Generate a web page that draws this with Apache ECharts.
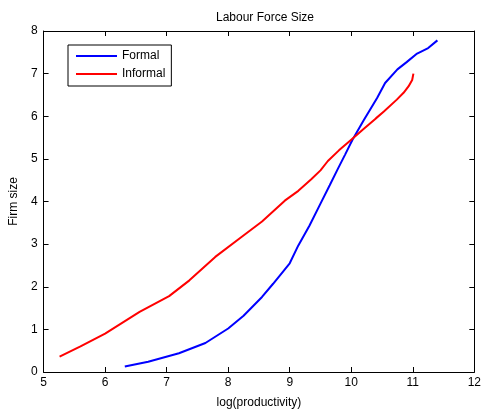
<!DOCTYPE html>
<html><head><meta charset="utf-8">
<script src="https://cdn.jsdelivr.net/npm/echarts@6/dist/echarts.min.js"></script>
<style>html,body{margin:0;padding:0;background:#fff}#c{width:484px;height:414px}</style>
</head><body><div id="c"></div>
<script>
var formalX = [6.32,6.7,7.2,7.63,8.0,8.25,8.55,8.73,9.0,9.14,9.32,9.5,9.65,9.78,9.9,10.02,10.2,10.42,10.55,10.75,10.9,11.07,11.25,11.4];
var formalY = [0.13,0.24,0.44,0.68,1.02,1.32,1.76,2.07,2.55,2.97,3.43,3.95,4.38,4.76,5.1,5.45,5.9,6.43,6.78,7.1,7.27,7.47,7.6,7.78];
var informalX = [5.26,5.6,6.0,6.56,7.04,7.37,7.79,8.2,8.55,8.92,9.14,9.35,9.5,9.62,9.8,10.0,10.2,10.4,10.53,10.74,10.85,10.93,10.99,11.01];
var informalY = [0.36,0.6,0.9,1.41,1.78,2.15,2.70,3.15,3.53,4.02,4.25,4.52,4.73,4.95,5.2,5.45,5.7,5.95,6.11,6.39,6.55,6.70,6.85,7.0];
var seriesNames = ['Formal','Informal'];
var titleText = 'Labour Force Size';
var xLabel = 'log(productivity)';
var yLabel = 'Firm size';

function pairs(xs, ys){ return xs.map(function(x,i){return [x, ys[i]];}); }
var font = 'Liberation Sans, Arial, Helvetica, sans-serif';
var axisCommon = {
  axisLine:{show:true,onZero:false,lineStyle:{color:'#000',width:1}},
  axisTick:{show:true,inside:true,length:5,lineStyle:{color:'#000'}},
  splitLine:{show:false}
};
var chart = echarts.init(document.getElementById('c'));
chart.setOption({
  animation:false,
  backgroundColor:'#fff',
  title:{text:titleText,left:260,top:7,textAlign:'center',textStyle:{fontFamily:font,fontSize:12,fontWeight:'normal',color:'#000'}},
  grid:{left:43,right:6,top:31,bottom:40},
  legend:{
    data:seriesNames.map(function(n){return {name:n,icon:'rect'};}),
    orient:'vertical',left:68,top:45,
    padding:[4,6,5,8],itemGap:4,itemWidth:41,itemHeight:2,
    borderColor:'#000',borderWidth:1,backgroundColor:'#fff',
    textStyle:{fontFamily:font,fontSize:12,color:'#000',lineHeight:14}
  },
  xAxis:[
    Object.assign({type:'value',min:5,max:12,interval:1,position:'bottom',
      name:xLabel,nameLocation:'middle',nameGap:25,
      nameTextStyle:{fontFamily:font,fontSize:12,color:'#000'},
      axisLabel:{fontFamily:font,fontSize:12,color:'#000',margin:5}},axisCommon),
    Object.assign({type:'value',min:5,max:12,interval:1,position:'top',
      axisLabel:{show:false}},axisCommon)
  ],
  yAxis:[
    Object.assign({type:'value',min:0,max:8,interval:1,position:'left',
      name:yLabel,nameLocation:'middle',nameGap:20,
      nameTextStyle:{fontFamily:font,fontSize:12,color:'#000'},
      axisLabel:{fontFamily:font,fontSize:12,color:'#000',margin:6}},axisCommon),
    Object.assign({type:'value',min:0,max:8,interval:1,position:'right',
      axisLabel:{show:false}},axisCommon)
  ],
  series:[
    {name:seriesNames[0],type:'line',data:pairs(formalX,formalY),symbol:'none',smooth:false,
     lineStyle:{color:'#0000ff',width:2},itemStyle:{color:'#0000ff'}},
    {name:seriesNames[1],type:'line',data:pairs(informalX,informalY),symbol:'none',smooth:false,
     lineStyle:{color:'#ff0000',width:2},itemStyle:{color:'#ff0000'}}
  ]
});
</script></body></html>
